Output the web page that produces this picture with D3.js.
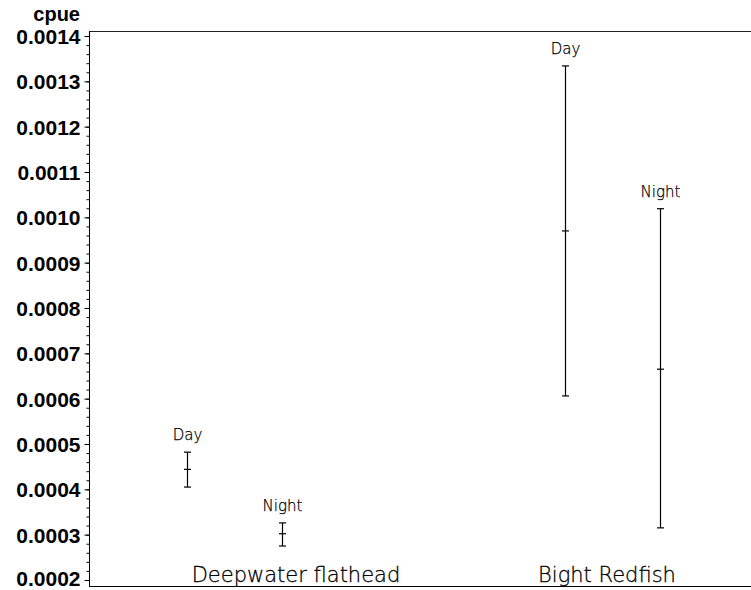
<!DOCTYPE html>
<html>
<head>
<meta charset="utf-8">
<script src="https://cdn.jsdelivr.net/npm/d3@7"></script>
<style>
  html, body { margin: 0; padding: 0; background: #fff; }
  svg { display: block; }
</style>
</head>
<body>
<svg id="chart" width="751" height="590"></svg>
<script>
// Species groups and the two sampling periods within each
const species = ["Deepwater flathead", "Bight Redfish"];
const periods = ["Day", "Night"];

// Catch per unit effort: mean with lower and upper bounds, one entry per species, per period
const cpueMean  = [[0.000444, 0.000302], [0.000970, 0.000665]];
const cpueLower = [[0.000405, 0.000275], [0.000606, 0.000315]];
const cpueUpper = [[0.000482, 0.000326], [0.001334, 0.001019]];

// Y axis labels
const yTicks = [0.0002, 0.0003, 0.0004, 0.0005, 0.0006, 0.0007, 0.0008, 0.0009, 0.0010, 0.0011, 0.0012, 0.0013, 0.0014];
const yTitle = "cpue";

const svg = d3.select("#chart");
const plot = { left: 89, right: 760, top: 31, bottom: 586 };

const y = d3.scaleLinear()
  .domain([0.00018676, 0.00141103])
  .range([plot.bottom, plot.top]);

// Bar positions: each species sits on an integer slot, periods offset within the slot
const x = d3.scaleLinear().domain([0, 1]).range([187, 565]);
const periodOffset = d3.scaleLinear().domain([0, 1]).range([0, 95]);
const labelX = d3.scaleLinear().domain([0, 1]).range([296, 607]);

// Frame: top and bottom edges
svg.append("line")
  .attr("x1", plot.left).attr("x2", plot.right)
  .attr("y1", plot.top + 0.5).attr("y2", plot.top + 0.5)
  .attr("stroke", "#222").attr("stroke-width", 1);
svg.append("line")
  .attr("x1", plot.left).attr("x2", plot.right)
  .attr("y1", plot.bottom + 0.5).attr("y2", plot.bottom + 0.5)
  .attr("stroke", "#000").attr("stroke-width", 1);

// Minor ticks (five subdivisions per labelled interval)
const minorTicks = d3.range(0, 61).map(i => +(0.0002 + i * 0.00002).toFixed(6))
  .filter(v => v <= y.domain()[1]);
const minorAxis = d3.axisLeft(y).tickValues(minorTicks).tickSize(3).tickFormat("");
svg.append("g")
  .attr("transform", `translate(${plot.left + 0.5},0)`)
  .call(minorAxis)
  .call(g => g.select(".domain").remove())
  .call(g => g.selectAll("line").attr("stroke", "#000"));

// Major axis with labels
const yAxis = d3.axisLeft(y)
  .tickValues(yTicks)
  .tickSize(5)
  .tickPadding(4)
  .tickFormat(d3.format(".4f"));
const gy = svg.append("g")
  .attr("transform", `translate(${plot.left + 0.5},0)`)
  .call(yAxis);
gy.select(".domain").attr("d", `M-0,${plot.bottom}V${plot.top}`).attr("stroke", "#000");
gy.selectAll(".tick line").attr("stroke", "#000");
gy.selectAll(".tick text")
  .attr("fill", "#000")
  .attr("dy", (d, i) => i === 0 ? "0.26em" : "0.36em")
  .style("font-family", "'Liberation Sans', Arial, sans-serif")
  .style("font-weight", "bold")
  .style("font-size", "21px");

svg.append("text")
  .attr("x", 80).attr("y", 21)
  .attr("text-anchor", "end")
  .style("font-family", "'Liberation Sans', Arial, sans-serif")
  .style("font-weight", "bold")
  .style("font-size", "20px")
  .text(yTitle);

// Error bars
const bars = [];
species.forEach((s, i) => {
  periods.forEach((p, j) => {
    bars.push({
      species: s, period: p,
      cx: x(i) + periodOffset(j),
      mean: cpueMean[i][j], lo: cpueLower[i][j], hi: cpueUpper[i][j]
    });
  });
});

const cap = 3.5;
const g = svg.append("g").attr("stroke", "#000").attr("stroke-width", 1.2);
bars.forEach(b => {
  const cx = Math.round(b.cx) + 0.5;
  g.append("line").attr("x1", cx).attr("x2", cx).attr("y1", y(b.hi)).attr("y2", y(b.lo));
  [b.hi, b.mean, b.lo].forEach(v => {
    g.append("line")
      .attr("x1", cx - cap).attr("x2", cx + cap)
      .attr("y1", y(v)).attr("y2", y(v));
  });
  svg.append("text")
    .attr("x", cx).attr("y", y(b.hi) - 12)
    .attr("text-anchor", "middle")
    .attr("fill", "#000")
    .attr("stroke", "#000")
    .attr("stroke-width", 0.25)
    .style("font-family", "'DejaVu Sans', sans-serif")
    .style("font-weight", 200)
    .style("font-size", "15px")
    .text(b.period);
});

// Species labels along the bottom
species.forEach((s, i) => {
  svg.append("text")
    .attr("x", labelX(i)).attr("y", 582)
    .attr("text-anchor", "middle")
    .attr("fill", "#000")
    .attr("stroke", "#000")
    .attr("stroke-width", 0.3)
    .style("font-family", "'DejaVu Sans', sans-serif")
    .style("font-weight", 200)
    .style("font-size", "21px")
    .text(s);
});
</script>
</body>
</html>
